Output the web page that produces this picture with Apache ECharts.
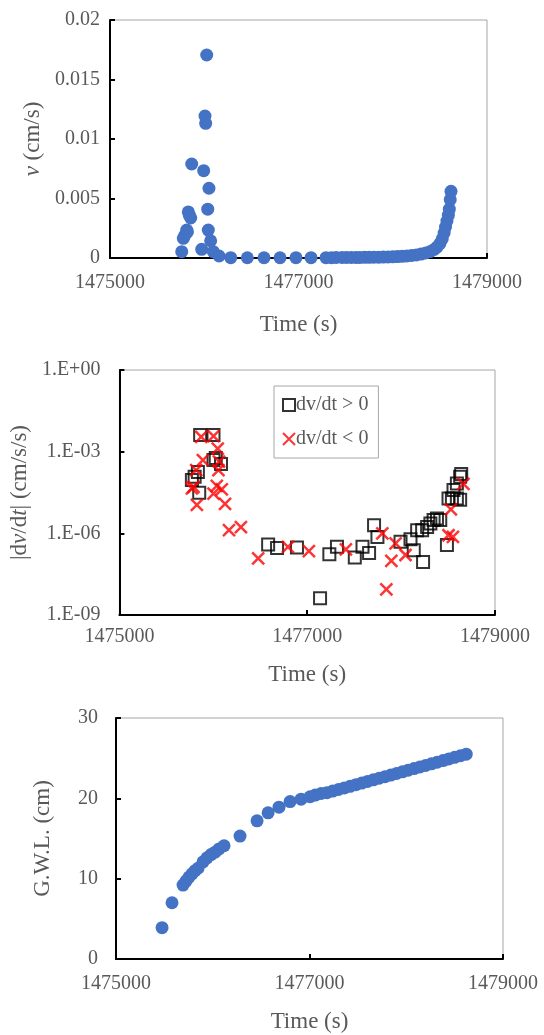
<!DOCTYPE html>
<html>
<head>
<meta charset="utf-8">
<script src="https://cdn.jsdelivr.net/npm/echarts@6/dist/echarts.min.js"></script>
<style>
  html, body { margin: 0; padding: 0; background: #fff; }
  #chart { width: 544px; height: 1035px; }
</style>
</head>
<body>
<div id="chart"></div>
<script>
// velocity v (cm/s) vs time
var velTime = [1475761, 1475778, 1475796, 1475814, 1475831, 1475856, 1475867, 1475822, 1475842,
  1475973, 1475994, 1476008, 1476015, 1476026, 1476037, 1476043, 1476050, 1476068, 1476096, 1476157,
  1476281, 1476457, 1476634, 1476804, 1476973, 1477133, 1477292, 1477350, 1477400, 1477462,
  1477510, 1477560, 1477610,
  1477650, 1477700, 1477750, 1477800, 1477850, 1477900, 1477950, 1478000, 1478050, 1478100,
  1478150, 1478200, 1478250, 1478300, 1478350, 1478400, 1478440, 1478470, 1478500, 1478525,
  1478545, 1478560, 1478575, 1478590, 1478600, 1478610, 1478618];
var velValue = [0.00053, 0.00165, 0.00193, 0.00235, 0.00387, 0.00336, 0.0079, 0.0022, 0.0036,
  0.00073, 0.00734, 0.01193, 0.01132, 0.01706, 0.0041, 0.00235, 0.00586, 0.00145, 0.00053, 0.00017,
  0.00003, 0.00002, 0.00002, 0.00002, 0.00003, 0.00003, 0.00003, 0.00003, 0.00004, 0.00004,
  0.00004, 0.00005, 0.00005,
  0.00005, 0.00006, 0.00006, 0.00007, 0.00007, 0.00008, 0.00009, 0.0001, 0.00012, 0.00014,
  0.00017, 0.00021, 0.00026, 0.00033, 0.00042, 0.00055, 0.00072, 0.00092, 0.0012, 0.0016,
  0.0021, 0.0026, 0.0031, 0.0036, 0.0041, 0.0049, 0.0056];

// |dv/dt| where dv/dt > 0
var accPosTime = [1475772, 1475801, 1475836, 1475850, 1475860, 1476002, 1476002, 1476026, 1476082,
  1476584, 1476679, 1476891, 1477137, 1477236, 1477317, 1477507, 1477589, 1477659, 1477712, 1477748,
  1477994, 1478100, 1478135, 1478234, 1478171, 1478224, 1478277, 1478312, 1478346, 1478382,
  1478417, 1478488, 1478505, 1478541, 1478594, 1478629, 1478558, 1478594, 1478629, 1478640];
var accPosValue = [9.1e-5, 1.2e-4, 1.8e-4, 3.1e-5, 4.1e-3, 4.1e-3, 4.9e-4, 5.8e-4, 3.5e-4,
  3.9e-7, 2.9e-7, 3.0e-7, 4.1e-9, 1.7e-7, 3.2e-7, 1.3e-7, 3.2e-7, 1.9e-7, 2.0e-6, 7.4e-7,
  4.9e-7, 6.0e-7, 2.4e-7, 8.9e-8, 1.3e-6, 1.3e-6, 1.7e-6, 2.3e-6, 3.1e-6, 3.5e-6,
  3.1e-6, 3.7e-7, 1.9e-5, 1.9e-5, 1.9e-5, 1.7e-5, 3.9e-5, 6.8e-5, 1.2e-4, 1.5e-4];

// |dv/dt| where dv/dt < 0
var accNegTime = [1475871, 1476002, 1476047, 1475889, 1476061, 1476055, 1475818, 1475790, 1475772,
  1476002, 1476037, 1476090, 1475825, 1476125, 1476167, 1476294, 1476478, 1476795, 1477018, 1477412,
  1477800, 1477896, 1477843, 1477941, 1478047, 1478505, 1478552, 1478530, 1478664];
var accNegValue = [3.5e-3, 3.7e-3, 1.3e-3, 4.9e-4, 4.3e-4, 2.1e-4, 2.1e-4, 5.1e-5, 4.5e-5,
  2.9e-5, 5.5e-5, 4.1e-5, 1.1e-5, 1.2e-5, 1.3e-6, 1.7e-6, 1.2e-7, 3.2e-7, 2.2e-7, 2.6e-7,
  1.0e-6, 9.8e-8, 8.7e-9, 4.3e-7, 1.6e-7, 8.5e-7, 7.4e-7, 7.6e-6, 6.5e-5];

// ground water level (cm)
var gwlTime = [1475476, 1475579, 1475693, 1475724, 1475755, 1475786, 1475817, 1475848, 1475900,
  1475941, 1475982, 1476024, 1476065, 1476117, 1476282, 1476458, 1476572, 1476685, 1476799,
  1476913, 1477006, 1477060, 1477120, 1477180, 1477240, 1477300, 1477360, 1477420, 1477480,
  1477540, 1477600, 1477660, 1477720, 1477780, 1477840, 1477900, 1477960, 1478020, 1478080,
  1478140, 1478200, 1478260, 1478320, 1478380, 1478440, 1478500, 1478560, 1478620];
var gwlValue = [3.9, 7.0, 9.2, 9.7, 10.2, 10.6, 11.0, 11.3, 12.1,
  12.6, 13.0, 13.3, 13.7, 14.1, 15.3, 17.2, 18.2, 18.9, 19.6,
  19.9, 20.2, 20.4, 20.6, 20.7, 20.9, 21.1, 21.3, 21.5, 21.7,
  21.9, 22.1, 22.3, 22.5, 22.7, 22.9, 23.1, 23.3, 23.5, 23.7,
  23.9, 24.1, 24.3, 24.5, 24.7, 24.9, 25.1, 25.3, 25.5];

var timeTicks = { min: 1475000, max: 1479000, interval: 2000 };

function zip(a, b) { return a.map(function (t, i) { return [t, b[i]]; }); }

var FONT = 'Liberation Serif';
var GREY = '#595959';
var BLUE = '#4472C4';

function xAxisFor(idx, labelMargin, nameGap) {
  return {
    type: 'value', gridIndex: idx,
    min: timeTicks.min, max: timeTicks.max, interval: timeTicks.interval,
    name: 'Time (s)', nameLocation: 'middle', nameGap: nameGap,
    nameTextStyle: { fontFamily: FONT, fontSize: 23, color: GREY },
    axisLine: { show: true, onZero: false, lineStyle: { color: '#000', width: 2 } },
    axisTick: { show: true, inside: true, length: 5, lineStyle: { color: '#000', width: 2 } },
    axisLabel: { fontFamily: FONT, fontSize: 20, color: GREY, margin: labelMargin,
      formatter: function (v) { return String(v); } },
    splitLine: { show: false }
  };
}

function yAxisBase(idx, labelMargin) {
  return {
    gridIndex: idx,
    axisLine: { show: true, onZero: false, lineStyle: { color: '#000', width: 2 } },
    axisTick: { show: true, inside: true, length: 5, lineStyle: { color: '#000', width: 2 } },
    axisLabel: { fontFamily: FONT, fontSize: 20, color: GREY, margin: labelMargin },
    splitLine: { show: false },
    nameLocation: 'middle'
  };
}

var y0 = yAxisBase(0, 10);
y0.type = 'value'; y0.min = 0; y0.max = 0.02; y0.interval = 0.005;
y0.name = '{i|v} (cm/s)'; y0.nameGap = 62;
y0.nameTextStyle = { fontFamily: FONT, fontSize: 23, color: GREY,
  rich: { i: { fontFamily: FONT, fontSize: 23, color: GREY, fontStyle: 'italic' } } };

var y1 = yAxisBase(1, 19);
y1.type = 'log'; y1.logBase = 10; y1.min = 1e-9; y1.max = 1; y1.interval = 3;
y1.axisLabel.formatter = function (v) {
  var e = Math.round(Math.log10(v));
  return '1.E' + (e < 0 ? '-' : '+') + String(Math.abs(e)).padStart(2, '0');
};
y1.name = '|d{i|v}/d{i|t}| (cm/s/s)'; y1.nameGap = 70;
y1.nameTextStyle = { fontFamily: FONT, fontSize: 23, color: GREY,
  rich: { i: { fontFamily: FONT, fontSize: 23, color: GREY, fontStyle: 'italic' } } };

var y2 = yAxisBase(2, 18);
y2.type = 'value'; y2.min = 0; y2.max = 30; y2.interval = 10;
y2.name = 'G.W.L. (cm)'; y2.nameGap = 62;
y2.nameTextStyle = { fontFamily: FONT, fontSize: 23, color: GREY };

var gridStyle = { show: true, borderColor: '#a6a6a6', borderWidth: 1, backgroundColor: 'transparent' };

var chart = echarts.init(document.getElementById('chart'));
chart.setOption({
  animation: false,
  backgroundColor: '#fff',
  grid: [
    Object.assign({ left: 110, right: 57, top: 20, height: 238 }, gridStyle),
    Object.assign({ left: 117, right: 49, top: 370, height: 245 }, gridStyle),
    Object.assign({ left: 116, right: 41, top: 718, height: 241 }, gridStyle)
  ],
  xAxis: [xAxisFor(0, 15, 55), xAxisFor(1, 12, 48), xAxisFor(2, 15, 51)],
  yAxis: [y0, y1, y2],
  legend: {
    show: true, orient: 'vertical', left: 274, top: 386,
    padding: [9, 10, 9, 8], itemGap: 14,
    borderColor: '#a6a6a6', borderWidth: 1,
    itemWidth: 12, itemHeight: 12,
    textStyle: { fontFamily: FONT, fontSize: 20, color: GREY, padding: [0, 0, 0, -4] },
    data: ['dv/dt > 0', 'dv/dt < 0']
  },
  series: [
    {
      name: 'v', type: 'scatter', xAxisIndex: 0, yAxisIndex: 0,
      symbol: 'circle', symbolSize: 13,
      itemStyle: { color: BLUE, opacity: 1 },
      data: zip(velTime, velValue)
    },
    {
      name: 'dv/dt > 0', type: 'scatter', xAxisIndex: 1, yAxisIndex: 1,
      symbol: 'rect', symbolSize: 12,
      itemStyle: { color: 'rgba(0,0,0,0)', borderColor: '#000', borderWidth: 2 },
      data: zip(accPosTime, accPosValue)
    },
    {
      name: 'dv/dt < 0', type: 'scatter', xAxisIndex: 1, yAxisIndex: 1,
      symbol: 'path://M0,0L10,10M10,0L0,10', symbolSize: 12,
      itemStyle: { color: 'rgba(0,0,0,0)', borderColor: '#ff0000', borderWidth: 2.5 },
      data: zip(accNegTime, accNegValue)
    },
    {
      name: 'gwl', type: 'scatter', xAxisIndex: 2, yAxisIndex: 2,
      symbol: 'circle', symbolSize: 13,
      itemStyle: { color: BLUE, opacity: 1 },
      data: zip(gwlTime, gwlValue)
    }
  ]
});
</script>
</body>
</html>
